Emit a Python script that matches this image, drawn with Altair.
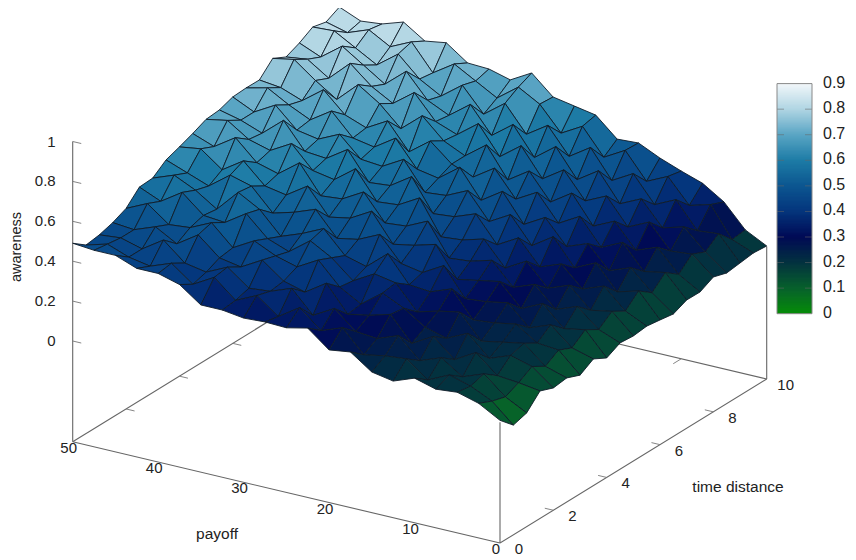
import altair as alt
import numpy as np
import pandas as pd

# awareness values: rows = time distance 0..10 (step .5), columns = payoff 0..50 (step 2.5)
Z = [
[.11,.17,.20,.19,.22,.18,.20,.275,.26,.344,.32,.324,.318,.333,.333,.41,.44,.44,.48,.48,.49],
[.045,.14,.19,.22,.17,.25,.24,.22,.33,.29,.38,.31,.39,.34,.43,.37,.45,.41,.43,.47,.44],
[.065,.12,.21,.17,.24,.20,.30,.26,.27,.36,.30,.41,.37,.36,.44,.39,.41,.50,.43,.46,.45],
[.134,.15,.16,.25,.19,.28,.22,.34,.31,.29,.42,.35,.38,.46,.40,.42,.51,.44,.50,.46,.47],
[.108,.19,.22,.18,.28,.23,.26,.33,.38,.30,.36,.47,.41,.44,.49,.43,.53,.48,.47,.55,.50],
[.117,.15,.24,.22,.20,.32,.30,.27,.39,.41,.35,.44,.50,.42,.46,.56,.49,.50,.59,.52,.566],
[.09,.19,.20,.27,.25,.24,.37,.33,.34,.47,.38,.41,.52,.47,.43,.54,.60,.49,.56,.61,.57],
[.13,.16,.25,.21,.31,.29,.28,.42,.36,.38,.50,.45,.43,.55,.51,.48,.59,.62,.54,.58,.62],
[.094,.21,.19,.29,.24,.35,.33,.31,.46,.43,.41,.55,.49,.47,.60,.53,.55,.65,.58,.66,.644],
[.128,.17,.26,.22,.32,.28,.39,.36,.35,.51,.46,.45,.58,.52,.51,.65,.57,.60,.70,.63,.67],
[.122,.22,.20,.30,.26,.37,.31,.43,.40,.39,.56,.50,.49,.63,.55,.57,.68,.62,.65,.72,.70],
[.13,.18,.28,.24,.34,.30,.42,.36,.49,.45,.44,.60,.53,.52,.66,.59,.60,.73,.64,.68,.706],
[.12,.24,.21,.33,.28,.41,.34,.47,.41,.54,.49,.48,.62,.56,.57,.67,.62,.64,.74,.68,.73],
[.109,.19,.29,.25,.36,.32,.44,.38,.52,.45,.59,.51,.53,.66,.59,.61,.72,.65,.70,.76,.734],
[.138,.25,.23,.35,.30,.43,.37,.50,.44,.57,.50,.54,.63,.55,.68,.62,.66,.76,.68,.72,.733],
[.137,.20,.31,.27,.39,.34,.48,.41,.54,.47,.62,.54,.59,.69,.60,.70,.77,.67,.74,.82,.80],
[.171,.26,.25,.37,.32,.45,.40,.53,.46,.60,.52,.66,.58,.62,.74,.66,.72,.81,.71,.78,.766],
[.15,.23,.33,.30,.42,.37,.51,.44,.58,.50,.64,.56,.69,.61,.66,.78,.69,.76,.83,.75,.795],
[.159,.28,.27,.40,.35,.48,.42,.56,.49,.62,.55,.68,.60,.72,.64,.70,.80,.72,.78,.84,.834],
[.168,.21,.36,.33,.45,.40,.53,.47,.60,.54,.66,.72,.64,.70,.76,.69,.82,.77,.83,.79,.818],
[.162,.217,.332,.40,.436,.476,.526,.52,.615,.635,.655,.75,.69,.719,.724,.80,.783,.853,.818,.807,.852],
]
PAYOFF = [2.5 * i for i in range(21)]
TIME = [0.5 * j for j in range(21)]
Z_TICKS = [0, 0.2, 0.4, 0.6, 0.8, 1]
P_TICKS = [0, 10, 20, 30, 40, 50]
T_TICKS = [0, 2, 4, 6, 8, 10]
CB_TICKS = [0, .1, .2, .3, .4, .5, .6, .7, .8, .9]
CB_COLORS = ["#068c08", "#07602c", "#03323f", "#000a55", "#04357c", "#0c5690",
             "#1d7ca6", "#5aa5c4", "#b0d5e3", "#f2f7fa"]


def proj(p, t, z):
    """Orthographic view: same projection for surface and box."""
    return (500 - 8.546 * p + 26.67 * t, 442.3 - 2.026 * p - 16.4 * t - 199.5 * z)


ZBASE = -0.505
quads = []
qid = 0
for i in range(19, -1, -1):
    for j in range(19, -1, -1):
        corners = [(i, j), (i + 1, j), (i + 1, j + 1), (i, j + 1), (i, j)]
        zc = np.mean([Z[b][a] for a, b in corners[:4]])
        for v, (a, b) in enumerate(corners):
            x, y = proj(PAYOFF[a], TIME[b], Z[b][a])
            quads.append(dict(q=qid, v=v, x=x, y=y, zc=zc))
        qid += 1
df = pd.DataFrame(quads)

xs = alt.Scale(domain=[8, 848], range=[0, 840])
ys = alt.Scale(domain=[8, 558], range=[0, 550])
X = alt.X("x:Q", scale=xs, axis=None)
Y = alt.Y("y:Q", scale=ys, axis=None)
fill_scale = alt.Scale(domain=CB_TICKS, range=CB_COLORS, interpolate="rgb")


def seg(a, b):
    x, y = proj(*a)
    x2, y2 = proj(*b)
    return dict(x=x, y=y, x2=x2, y2=y2)


box = [
    seg((50, 0, ZBASE), (50, 0, 1)),
    seg((50, 0, ZBASE), (0, 0, ZBASE)),
    seg((0, 0, ZBASE), (0, 10, ZBASE)),
    seg((50, 0, ZBASE), (50, 10, ZBASE)),
    seg((50, 10, ZBASE), (0, 10, ZBASE)),
    seg((0, 0, ZBASE), (0, 0, 0.1)),
    seg((0, 10, ZBASE), (0, 10, 0.16)),
]
ticks = []
for z in Z_TICKS:
    ticks.append(seg((50, 0, z), (49, 0, z)))
for t in T_TICKS[1:-1]:
    ticks.append(seg((0, t, ZBASE), (1, t, ZBASE)))
    if t < 8:
        ticks.append(seg((50, t, ZBASE), (49, t, ZBASE)))
ticks.append(seg((10, 10, ZBASE), (10, 9.7, ZBASE)))

box_layer = alt.Chart(pd.DataFrame(box)).mark_rule(color="#666666", strokeWidth=1.1).encode(
    x=X, y=Y, x2="x2:Q", y2="y2:Q")
tick_layer = alt.Chart(pd.DataFrame(ticks)).mark_rule(color="#777777", strokeWidth=0.9).encode(
    x=X, y=Y, x2="x2:Q", y2="y2:Q")

surface = alt.Chart(df).mark_line(
    filled=True, stroke="#101c28", strokeWidth=0.9, strokeJoin="round"
).encode(
    x=X, y=Y, order="v:Q", detail="q:N",
    fill=alt.Fill("zc:Q", scale=fill_scale, legend=None),
)


def labels(rows, align="center", size=15):
    return alt.Chart(pd.DataFrame(rows)).mark_text(
        font="Liberation Sans", fontSize=size, color="#222222", align=align, baseline="middle"
    ).encode(x=X, y=Y, text="label:N")


def lab(a, dx, dy, label):
    x, y = proj(*a)
    return dict(x=x + dx, y=y + dy, label=label)


z_lab = labels([lab((50, 0, z), -17, 0, f"{z:g}") for z in Z_TICKS], align="right")
p_lab = labels([lab((p, 0, ZBASE), -4, 6, str(p)) for p in P_TICKS])
t_lab = labels([lab((0, t, ZBASE), 19, 6, str(t)) for t in T_TICKS])
titles = labels([dict(x=217, y=534, label="payoff"), dict(x=738, y=487, label="time distance")], size=15.5)
ztitle = alt.Chart(pd.DataFrame([dict(x=17, y=247, label="awareness")])).mark_text(
    font="Liberation Sans", fontSize=14.5, color="#222222", angle=270, baseline="middle"
).encode(x=X, y=Y, text="label:N")

# colour bar
CB_L, CB_R, CB_B, CB_T = 777, 812, 313.7, 83.6
def cby(v):
    return CB_B + (CB_T - CB_B) * v / 0.9

levels = np.arange(0, 0.9, 0.005)
cb = pd.DataFrame([dict(x=CB_L, x2=CB_R, y=cby(v), y2=cby(min(v + 0.01, 0.9)), c=v + 0.0025) for v in levels])
cb_bar = alt.Chart(cb).mark_rect().encode(
    x=X, x2="x2:Q", y=Y, y2="y2:Q", fill=alt.Fill("c:Q", scale=fill_scale, legend=None))
cb_frame = alt.Chart(pd.DataFrame([dict(x=CB_L, x2=CB_R, y=CB_T, y2=CB_B)])).mark_rect(
    fill=None, stroke="#888888", strokeWidth=1).encode(x=X, x2="x2:Q", y=Y, y2="y2:Q")
cb_ticks = []
for v in CB_TICKS[1:-1]:
    cb_ticks.append(dict(x=CB_L, x2=CB_L + 7, y=cby(v), y2=cby(v)))
    cb_ticks.append(dict(x=CB_R - 7, x2=CB_R, y=cby(v), y2=cby(v)))
cb_tick = alt.Chart(pd.DataFrame(cb_ticks)).mark_rule(color="#666666", strokeWidth=0.8, opacity=0.7).encode(
    x=X, x2="x2:Q", y=Y, y2="y2:Q")
cb_lab = labels([dict(x=823, y=cby(v) - 1, label=f"{v:g}") for v in CB_TICKS], align="left", size=16)

chart = alt.layer(
    box_layer, tick_layer, surface, z_lab, p_lab, t_lab, titles, ztitle, cb_bar, cb_tick, cb_frame, cb_lab
).properties(width=840, height=550, padding=0, autosize=alt.AutoSizeParams(type="none")).configure_view(stroke=None)

chart.save("out.html", embed_options={"renderer": "svg", "actions": False})
